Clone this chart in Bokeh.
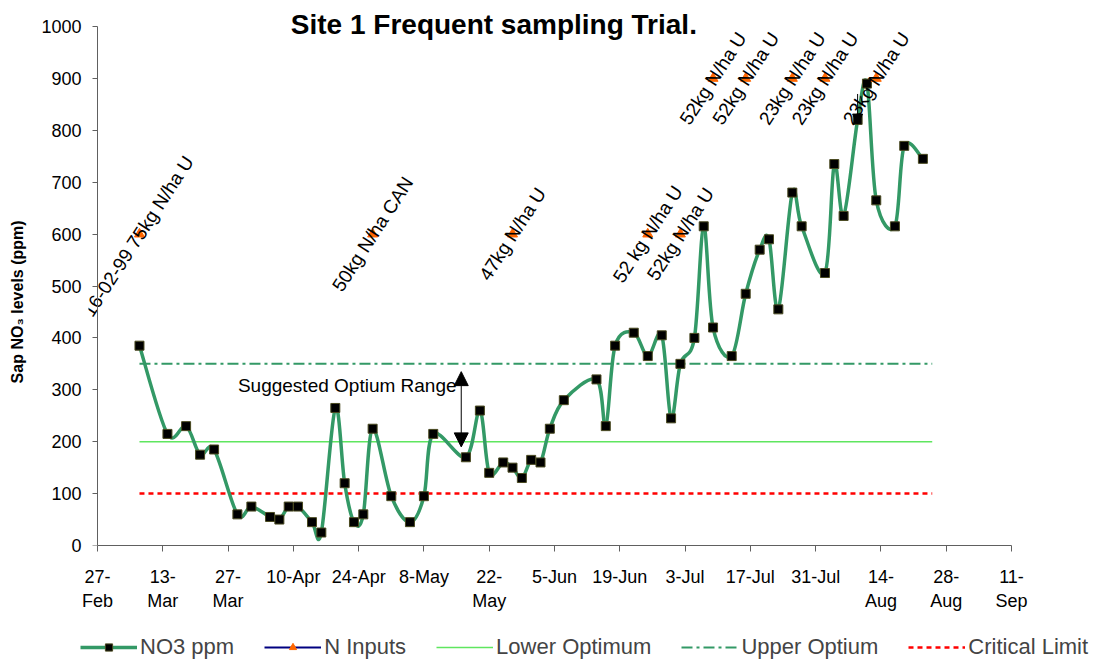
import numpy as np
import pandas as pd
from bokeh.plotting import figure
from bokeh.layouts import column
from bokeh.models import (FixedTicker, Legend, LegendItem, Label, Arrow,
                          NormalHead, Range1d, LinearAxis)
from bokeh.core.properties import value
from bokeh.embed import file_html
from bokeh.resources import INLINE

# ---------------- data ----------------
ORIGIN = "1999-02-27"

tick_dates = ["1999-02-27", "1999-03-13", "1999-03-27", "1999-04-10", "1999-04-24",
              "1999-05-08", "1999-05-22", "1999-06-05", "1999-06-19", "1999-07-03",
              "1999-07-17", "1999-07-31", "1999-08-14", "1999-08-28", "1999-09-11"]
tick_labels = ["27-\nFeb", "13-\nMar", "27-\nMar", "10-Apr", "24-Apr", "8-May",
               "22-\nMay", "5-Jun", "19-Jun", "3-Jul", "17-Jul", "31-Jul",
               "14-\nAug", "28-\nAug", "11-\nSep"]
y_ticks = [0, 100, 200, 300, 400, 500, 600, 700, 800, 900, 1000]

no3_dates = ["1999-03-08", "1999-03-14", "1999-03-18", "1999-03-21", "1999-03-24", "1999-03-29",
             "1999-04-01", "1999-04-05", "1999-04-07", "1999-04-09", "1999-04-11", "1999-04-14",
             "1999-04-16", "1999-04-19", "1999-04-21", "1999-04-23", "1999-04-25", "1999-04-27",
             "1999-05-01", "1999-05-05", "1999-05-08", "1999-05-10", "1999-05-17", "1999-05-20",
             "1999-05-22", "1999-05-25", "1999-05-27", "1999-05-29", "1999-05-31",
             "1999-06-02", "1999-06-04", "1999-06-07", "1999-06-14", "1999-06-16", "1999-06-18",
             "1999-06-22", "1999-06-25", "1999-06-28", "1999-06-30",
             "1999-07-02", "1999-07-05", "1999-07-07", "1999-07-09", "1999-07-13", "1999-07-16",
             "1999-07-19", "1999-07-21", "1999-07-23", "1999-07-26", "1999-07-28",
             "1999-08-02", "1999-08-04", "1999-08-06", "1999-08-09", "1999-08-11", "1999-08-13",
             "1999-08-17", "1999-08-19", "1999-08-23"]
no3_ppm = [385, 215, 230, 175, 185, 60,
           75, 55, 50, 75, 75, 45, 25, 265, 120, 45, 60, 225,
           95, 45, 95, 215, 170, 260, 140, 160, 150, 130, 165,
           160, 225, 280, 320, 230, 385, 410, 365, 405, 245,
           350, 400, 615, 420, 365, 485, 570, 590, 455, 680, 615,
           525, 735, 635, 820, 890, 665, 615, 770, 745]

n_dates = ["1999-03-08", "1999-04-27", "1999-05-27", "1999-06-25", "1999-07-02",
           "1999-07-09", "1999-07-16", "1999-07-26", "1999-08-02", "1999-08-13"]
n_level = [600, 600, 600, 600, 600, 900, 900, 900, 900, 900]
n_labels = ["16-02-99 75kg N/ha  U", "50kg N/ha CAN", "47kg N/ha U", "52 kg N/ha U",
            "52kg N/ha U", "52kg N/ha U", "52kg N/ha U", "23kg N/ha U", "23kg N/ha U",
            "23kg N/ha U"]

ref_dates = ["1999-03-08", "1999-08-25"]
lower_optimum = [200, 200]
upper_optimum = [350, 350]
critical_limit = [100, 100]

title_text = "Site 1 Frequent sampling Trial."
y_title = "Sap NO\u2083 levels (ppm)"
range_text = "Suggested Optium Range"
range_arrow_date = "1999-05-16"
range_arrow_from, range_arrow_to = 190, 335
range_text_date, range_text_level = "1999-05-15", 308
pointer_date = "1999-08-09"
pointer_from, pointer_to = 870, 812
title_date, title_level = "1999-05-23", 1004

# ---------------- layout constants ----------------
FONT = "Liberation Sans"
W = 1099
MAIN_H, LEG_H = 630, 31
BORDER_L, BORDER_R, BORDER_B = 88, 88, 85
AXIS_X_PX = 97          # where the day-0 y axis sits
AXIS_TOP_PX = 26        # where 1000 sits
Y_TITLE_PAD = 13        # non-breaking spaces that push the y title down a little


def days(ds):
    return ((pd.to_datetime(pd.Series(ds)) - pd.Timestamp(ORIGIN)) / pd.Timedelta(days=1)).to_numpy(float)


tx = days(tick_dates)
x = days(no3_dates)
y = np.array(no3_ppm, float)

# frame geometry -> ranges (frame extends a little beyond the axes for labels)
frame_h = MAIN_H - BORDER_B
px_per_day = (W - BORDER_R - AXIS_X_PX) / (tx[-1] - tx[0])
x_start = tx[0] - (AXIS_X_PX - BORDER_L) / px_per_day
px_per_unit = (frame_h - AXIS_TOP_PX) / (y_ticks[-1] - y_ticks[0])
y_end = y_ticks[0] + frame_h / px_per_unit

# Smoothed line (Catmull-Rom style bezier control points, like Excel "smoothed line")
xp = np.concatenate([[x[0]], x, [x[-1]]])
yp = np.concatenate([[y[0]], y, [y[-1]]])
n = len(x)
cx0 = x[:-1] + (xp[2:n + 1] - xp[0:n - 1]) / 6
cy0 = y[:-1] + (yp[2:n + 1] - yp[0:n - 1]) / 6
cx1 = x[1:] - (xp[3:n + 2] - xp[1:n]) / 6
cy1 = y[1:] - (yp[3:n + 2] - yp[1:n]) / 6

p = figure(width=W, height=MAIN_H, output_backend="svg", toolbar_location=None,
           title=None,
           x_range=Range1d(x_start, tx[-1]), y_range=Range1d(y_ticks[0], y_end),
           min_border_left=BORDER_L, min_border_right=BORDER_R, min_border_top=0,
           min_border_bottom=BORDER_B)
p.frame_align = False
p.outline_line_color = None
p.grid.visible = False

AX = "#606060"
# x axis
p.xaxis.ticker = FixedTicker(ticks=list(tx))
p.xaxis.bounds = (tx[0], tx[-1])
p.xaxis.major_label_overrides = {int(t): lab for t, lab in zip(tx, tick_labels)}
p.xaxis.minor_tick_line_color = None
p.xaxis.major_tick_in = 0
p.xaxis.major_tick_out = 6
p.xaxis.major_label_standoff = 15
p.xaxis.major_label_text_font = FONT
p.xaxis.major_label_text_font_size = "18px"
p.xaxis.major_label_text_color = "black"
p.xaxis.axis_line_color = AX
p.xaxis.major_tick_line_color = AX

# y axis labels (at the frame edge) ...
ya = p.yaxis[0]
ya.ticker = FixedTicker(ticks=y_ticks)
ya.bounds = (y_ticks[0], y_ticks[-1])
ya.minor_tick_line_color = None
ya.major_tick_line_color = None
ya.axis_line_color = None
ya.major_tick_in = 0
ya.major_tick_out = 0
ya.major_label_standoff = 7
ya.major_label_text_font = FONT
ya.major_label_text_font_size = "18px"
ya.major_label_text_color = "black"
ya.axis_label = y_title + "\u00a0" * Y_TITLE_PAD
ya.axis_label_text_font = FONT
ya.axis_label_text_font_style = "bold"
ya.axis_label_text_font_size = "16px"
ya.axis_label_text_color = "black"
ya.axis_label_standoff = 12

# ... and the axis line with ticks drawn at day 0
yb = LinearAxis(ticker=FixedTicker(ticks=y_ticks), fixed_location=tx[0],
                bounds=(y_ticks[0], y_ticks[-1]),
                major_label_overrides={t: "" for t in y_ticks},
                major_label_standoff=0, major_tick_in=0, major_tick_out=5,
                minor_tick_line_color=None, axis_line_color=AX,
                major_tick_line_color=AX)
p.add_layout(yb, "left")

# reference lines
rx = days(ref_dates)
LOWER_C, UPPER_C, CRIT_C, MAIN_C = "#5fe65f", "#339966", "#ff0000", "#339966"
LOWER_KW = dict(line_color=LOWER_C, line_width=1.5)
CRIT_KW = dict(line_color=CRIT_C, line_width=2.5, line_dash="5 4")
UPPER_KW = dict(line_color=UPPER_C, line_width=2, line_dash="11 4 3 4")
MAIN_KW = dict(line_color=MAIN_C, line_width=3.5)
SQ_KW = dict(marker="square", size=9, fill_color="black", line_color="#4a4a20", line_width=1)
TRI_KW = dict(marker="triangle", size=10, fill_color="#ff6600", line_color="#ff6600")

p.line(rx, lower_optimum, **LOWER_KW)
p.line(rx, critical_limit, **CRIT_KW)
p.line(rx, upper_optimum, **UPPER_KW)

# NO3 smoothed series
p.bezier(x0=x[:-1], y0=y[:-1], x1=x[1:], y1=y[1:], cx0=cx0, cy0=cy0, cx1=cx1, cy1=cy1,
         line_cap="round", **MAIN_KW)
p.scatter(x, y, **SQ_KW)

# N inputs
nx = days(n_dates)
p.scatter(nx, n_level, **TRI_KW)
p.text(nx, n_level, text=n_labels, angle=57, angle_units="deg", text_align="center",
       text_baseline="middle", text_font=value(FONT), text_font_size="19px",
       text_color="black")

# annotations
ax_ = days([range_arrow_date])[0]
p.add_layout(Arrow(start=NormalHead(size=14, fill_color="black", line_color="black"),
                   end=NormalHead(size=14, fill_color="black", line_color="black"),
                   x_start=ax_, y_start=range_arrow_from, x_end=ax_, y_end=range_arrow_to,
                   line_color="black", line_width=1))
p.add_layout(Label(x=days([range_text_date])[0], y=range_text_level, text=range_text,
                   text_align="right", text_baseline="middle", text_font=FONT,
                   text_font_size="19px", text_color="black"))
px_ = days([pointer_date])[0]
p.add_layout(Arrow(end=NormalHead(size=10, fill_color="black", line_color="black"),
                   x_start=px_, y_start=pointer_from, x_end=px_, y_end=pointer_to,
                   line_color="black", line_width=1))
p.add_layout(Label(x=days([title_date])[0], y=title_level, text=title_text,
                   text_align="center", text_baseline="middle", text_font=FONT,
                   text_font_style="bold", text_font_size="28px", text_color="black"))

# ---------------- legend strip ----------------
q = figure(width=W, height=LEG_H, output_backend="svg", toolbar_location=None, title=None,
           x_range=Range1d(0, 1), y_range=Range1d(0, 1),
           min_border_left=0, min_border_right=0, min_border_top=0, min_border_bottom=0)
q.frame_align = False
q.axis.visible = False
q.grid.visible = False
q.outline_line_color = None
nan = [np.nan]
k1 = q.line(nan, nan, **MAIN_KW)
k2 = q.scatter(nan, nan, **SQ_KW)
k3 = q.line(nan, nan, line_color="#000080", line_width=2)
k4 = q.scatter(nan, nan, **TRI_KW)
k5 = q.line(nan, nan, **LOWER_KW)
k6 = q.line(nan, nan, **UPPER_KW)
k7 = q.line(nan, nan, **CRIT_KW)
legend = Legend(items=[
    LegendItem(label="NO3 ppm", renderers=[k1, k2]),
    LegendItem(label="N Inputs", renderers=[k3, k4]),
    LegendItem(label="Lower Optimum", renderers=[k5]),
    LegendItem(label="Upper Optium", renderers=[k6]),
    LegendItem(label="Critical Limit", renderers=[k7]),
], orientation="horizontal", location=(80, 1), glyph_width=57, glyph_height=18,
    label_standoff=3, spacing=30, padding=0, margin=0,
    label_text_font=FONT, label_text_font_size="22px", label_height=18,
    background_fill_alpha=0, border_line_alpha=0)
q.add_layout(legend, "center")

layout = column(p, q, spacing=0)
open("out.html", "w").write(file_html(layout, INLINE))
